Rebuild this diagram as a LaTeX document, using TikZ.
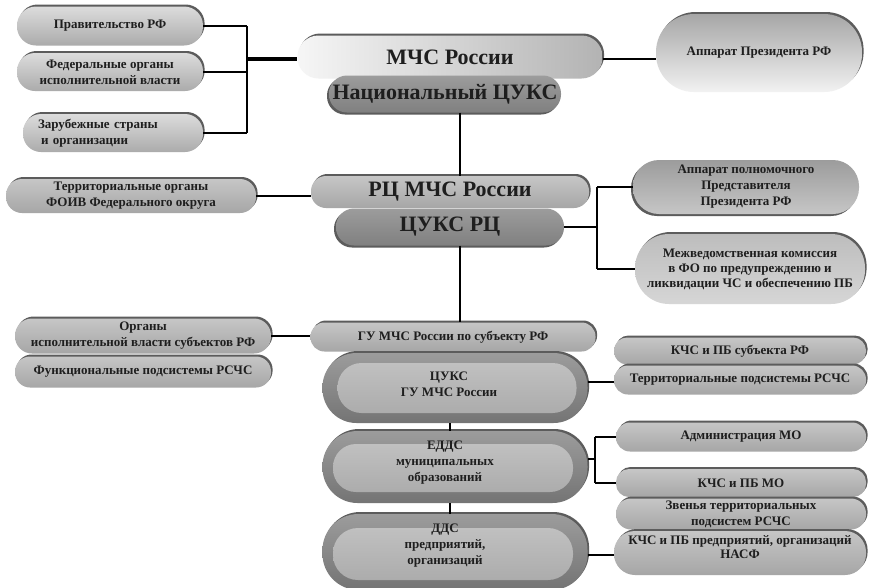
\documentclass[tikz,border=0pt]{standalone}
\usepackage{fontspec}
\setmainfont{Liberation Serif}
\usetikzlibrary{shadows}
\definecolor{ink}{HTML}{1E1E1E}
\definecolor{rim}{HTML}{5C5C5C}
\definecolor{lightT}{HTML}{DCDCDC}
\definecolor{lightB}{HTML}{ABABAB}
\definecolor{grayT}{HTML}{C6C6C6}
\definecolor{grayB}{HTML}{A6A6A6}
\definecolor{darkT}{HTML}{9C9C9C}
\definecolor{darkB}{HTML}{808080}
\definecolor{mchsL}{HTML}{F6F6F6}
\definecolor{mchsR}{HTML}{B3B3B3}
\definecolor{appT}{HTML}{A6A6A6}
\definecolor{appB}{HTML}{F2F2F2}
\definecolor{mezhT}{HTML}{BDBDBD}
\definecolor{mezhB}{HTML}{D6D6D6}
\definecolor{outT}{HTML}{9C9C9C}
\definecolor{outB}{HTML}{747474}
\definecolor{inT}{HTML}{C0C0C0}
\definecolor{inB}{HTML}{ACACAC}
\begin{document}
\begin{tikzpicture}[x=1pt,y=-1pt,
  txt/.style={inner sep=0pt, align=center, text=ink, font=\bfseries\fontsize{13}{16}\selectfont},
  bigfont/.style={font=\bfseries\fontsize{22}{24}\selectfont},
  box/.style={txt, general shadow={shadow xshift=1.6pt, shadow yshift=2pt, fill=rim}},
  boxdl/.style={txt, general shadow={shadow xshift=-2pt, shadow yshift=-2pt, fill=rim}},
  lightbox/.style={box, top color=lightT, bottom color=lightB},
  graybox/.style={box, top color=grayT, bottom color=grayB},
  darkbox/.style={boxdl, top color=darkT, bottom color=darkB},
  mchsbox/.style={box, left color=mchsL, right color=mchsR},
  appbox/.style={box, top color=appT, bottom color=appB},
  apppbox/.style={boxdl, top color=darkT, bottom color=grayT},
  mezhbox/.style={box, top color=mezhT, bottom color=mezhB},
  outerbox/.style={box, top color=outT, bottom color=outB},
  innerbox/.style={txt, top color=inT, bottom color=inB},
  wire/.style={draw=black, line width=2pt},
  heavywire/.style={draw=black, line width=4.5pt}
]
\useasboundingbox[fill=white] (0,0) rectangle (871,587);

% ---------- top level ----------
\node[lightbox, minimum width=186pt, minimum height=39pt, rounded corners=19pt] (gov) at (110,26) {Правительство РФ};
\node[lightbox, minimum width=186pt, minimum height=38pt, rounded corners=18pt] (fed) at (110,72) {Федеральные органы\\исполнительной власти};
\node[lightbox, minimum width=180pt, minimum height=38pt, rounded corners=18pt, text width=150pt, align=left] (zar) at (113,133) {Зарубежные страны\\\hspace*{3pt}и организации};

\node[mchsbox, minimum width=305pt, minimum height=43pt, rounded corners=21pt, bigfont] (mchs) at (450,57) {МЧС России};
\node[darkbox, minimum width=232pt, minimum height=37pt, rounded corners=18pt, bigfont] (nat) at (445,94) {Национальный ЦУКС};
\node[appbox, minimum width=206pt, minimum height=78pt, rounded corners=38pt, font=\bfseries\fontsize{13}{15}\selectfont] (app) at (759,53) {Аппарат Президента РФ};

% ---------- regional level ----------
\node[graybox, minimum width=250pt, minimum height=34pt, rounded corners=16pt] (terr) at (131,196) {Территориальные органы\\ФОИВ Федерального округа};
\node[graybox, minimum width=278pt, minimum height=32pt, rounded corners=15pt, bigfont] (rc) at (450,192) {РЦ МЧС России};
\node[darkbox, minimum width=228pt, minimum height=37pt, rounded corners=18pt, bigfont] (cuksrc) at (450,227) {ЦУКС РЦ};
\node[apppbox, minimum width=226pt, minimum height=54pt, rounded corners=26pt] (appp) at (746,187) {Аппарат полномочного\\Представителя\\Президента РФ};
\node[mezhbox, minimum width=230pt, minimum height=70pt, rounded corners=34pt, font=\bfseries\fontsize{13}{15}\selectfont] (mezh) at (750,269) {Межведомственная комиссия\\в ФО по предупреждению и\\ликвидации ЧС и обеспечению ПБ};

% ---------- subject level ----------
\node[graybox, minimum width=256pt, minimum height=35pt, rounded corners=17pt] (organy) at (143,336) {Органы\\исполнительной власти субъектов РФ};
\node[graybox, minimum width=256pt, minimum height=31pt, rounded corners=15pt] (func) at (143,372) {Функциональные подсистемы РСЧС};
\node[graybox, minimum width=285pt, minimum height=29pt, rounded corners=14pt] (gu) at (453,337) {ГУ МЧС России по субъекту РФ};

\node[outerbox, minimum width=265pt, minimum height=70pt, rounded corners=34pt] (cuksgu) at (455,388) {};
\node[innerbox, minimum width=239pt, minimum height=50pt, rounded corners=24pt] (cuksguin) at (457,388) {};
\node[txt] (cuksgut) at (449,384) {ЦУКС\\ГУ МЧС России};

\node[graybox, minimum width=252pt, minimum height=27pt, rounded corners=13pt] (kchss) at (740,351) {КЧС и ПБ субъекта РФ};
\node[graybox, minimum width=252pt, minimum height=29pt, rounded corners=14pt] (terrsub) at (740,380) {Территориальные подсистемы РСЧС};

% ---------- municipal level ----------
\node[outerbox, minimum width=265pt, minimum height=72pt, rounded corners=35pt] (edds) at (455,467) {};
\node[innerbox, minimum width=240pt, minimum height=48pt, rounded corners=23pt] (eddsin) at (453,468) {};
\node[txt] (eddst) at (445,463) {ЕДДС\\муниципальных\\образований};

\node[outerbox, minimum width=265pt, minimum height=76pt, rounded corners=36pt] (dds) at (455,552) {};
\node[innerbox, minimum width=240pt, minimum height=52pt, rounded corners=25pt] (ddsin) at (453,554) {};
\node[txt] (ddst) at (445,546) {ДДС\\предприятий,\\организаций};

\node[graybox, minimum width=250pt, minimum height=29pt, rounded corners=14pt] (adm) at (741,437) {Администрация МО};
\node[graybox, minimum width=250pt, minimum height=28pt, rounded corners=13pt] (kchsmo) at (741,483) {КЧС и ПБ МО};
\node[graybox, minimum width=250pt, minimum height=31pt, rounded corners=15pt] (zven) at (741,514) {Звенья территориальных\\подсистем РСЧС};
\node[graybox, minimum width=252pt, minimum height=44pt, rounded corners=21pt] (kchspr) at (740,553) {};
\node[txt, font=\bfseries\fontsize{13}{14}\selectfont] (kchsprt) at (740,547) {КЧС и ПБ предприятий, организаций\\НАСФ};

% ---------- connectors ----------
\coordinate (lt) at (247,26);
\coordinate (lb) at (247,133);
\coordinate (lj) at (247,59);
\draw[wire] (gov.east) -- (gov.east -| lt);
\draw[wire] (fed.east) -- (fed.east -| lt);
\draw[wire] (zar.east) -- (zar.east -| lt);
\draw[wire] (lt) -- (lb);
\draw[heavywire] (lj) -- (lj -| mchs.west);

\coordinate (rj) at (620,59);
\draw[wire] (rj -| mchs.east) -- (rj -| app.west);

\coordinate (cx) at (460,0);
\draw[wire] (nat.south -| cx) -- (rc.north -| cx);
\draw[wire] (terr.east) -- (terr.east -| rc.west);
\draw[wire] (cuksrc.south -| cx) -- (gu.north -| cx);

\coordinate (rt) at (597,187);
\coordinate (rb) at (597,269);
\draw[wire] (cuksrc.east) -- (cuksrc.east -| rt);
\draw[wire] (rt) -- (rb);
\draw[wire] (rt) -- (appp.west);
\draw[wire] (rb) -- (mezh.west);

\draw[wire] (organy.east) -- (organy.east -| gu.west);

\coordinate (sj) at (600,382);
\draw[wire] (sj -| cuksgu.east) -- (sj -| terrsub.west);

\coordinate (mx) at (450,0);
\draw[wire] (cuksgu.south -| mx) -- (edds.north -| mx);
\draw[wire] (edds.south -| mx) -- (dds.north -| mx);

\coordinate (et) at (595,437);
\coordinate (eb) at (595,483);
\coordinate (ej) at (595,459);
\draw[wire] (ej -| edds.east) -- (ej);
\draw[wire] (et) -- (eb);
\draw[wire] (et) -- (adm.west);
\draw[wire] (eb) -- (kchsmo.west);

\coordinate (dj) at (600,555);
\draw[wire] (dj -| dds.east) -- (dj -| kchspr.west);
\end{tikzpicture}
\end{document}
